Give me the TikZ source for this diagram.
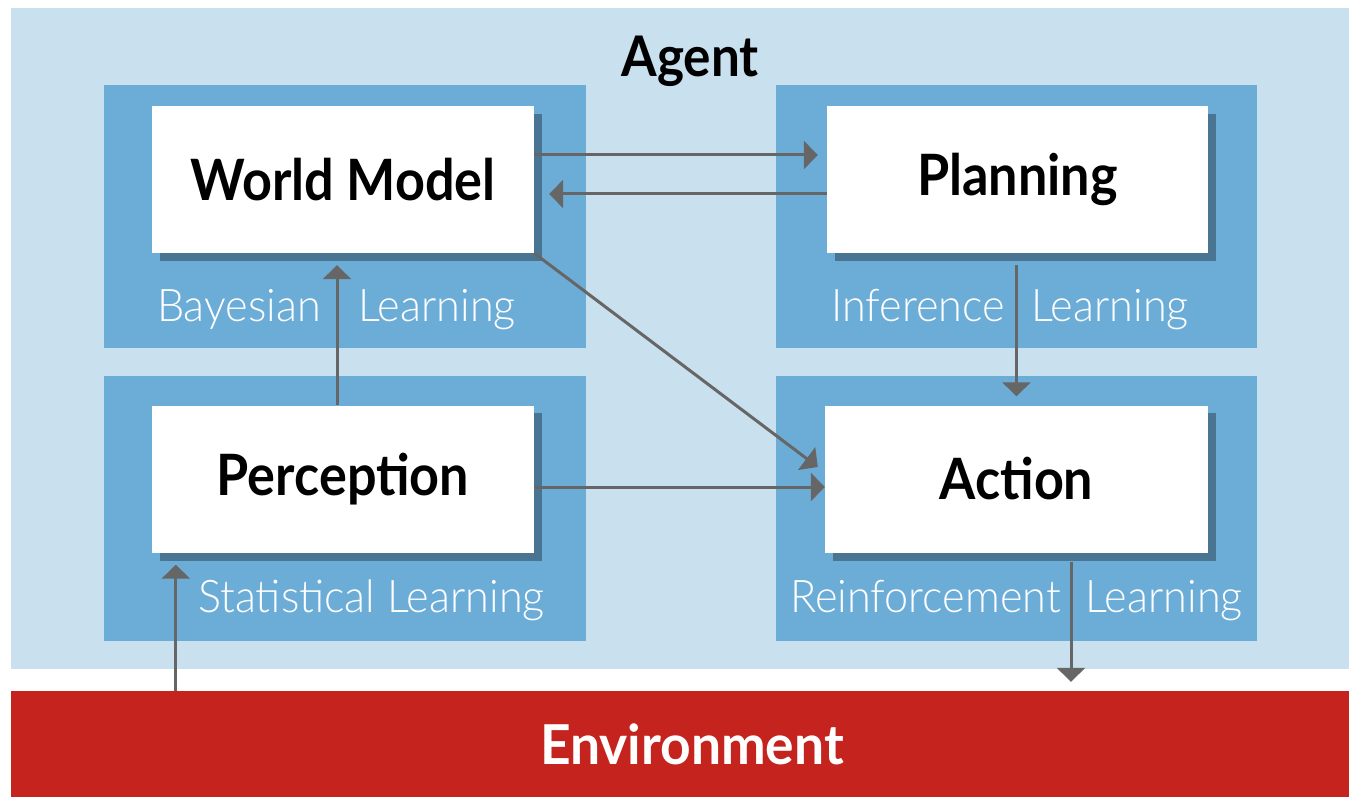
\documentclass[tikz,border=0pt]{standalone}
\usepackage{fontspec}
\usetikzlibrary{arrows.meta,calc}
\newfontfamily\headf{Lato}[FakeStretch=0.915]
\newfontfamily\envf{Lato}[FakeStretch=0.97]
\newfontfamily\lightf{Lato Light}[FakeStretch=0.96]
\definecolor{bgc}{HTML}{C9E0EE}
\definecolor{panelc}{HTML}{6CADD8}
\definecolor{shadowc}{HTML}{4A7592}
\definecolor{redc}{HTML}{C4241D}
\definecolor{arrowc}{HTML}{666666}
\tikzset{
  panel/.style={fill=panelc, draw=none},
  whitebox/.style={fill=white, draw=none, minimum width=382pt, minimum height=147pt, inner sep=0pt,
    font=\headf\bfseries\fontsize{57}{60}\selectfont, text=black},
  lbl/.style={font=\lightf\fontsize{45}{48}\selectfont, text=white, inner sep=0pt},
  conn/.style={draw=arrowc, line width=3pt, -{Triangle[length=14pt,width=28pt]}},
}
\newcommand{\boxshadow}[1]{\fill[shadowc] ([shift={(8,8)}]#1.north west) rectangle ([shift={(8,8)}]#1.south east);}
\begin{document}
\begin{tikzpicture}[x=1pt,y=-1pt]
\useasboundingbox (0,0) rectangle (1349,799);
% agent background
\fill[bgc] (11,8) rectangle (1349,669);
\node[anchor=base, font=\headf\bfseries\fontsize{56}{60}\selectfont] (agent) at (690,77) {Agent};
% panels
\fill[panel] (104,85) rectangle (586,348);
\fill[panel] (776,85) rectangle (1257,348);
\fill[panel] (104,376) rectangle (586,641);
\fill[panel] (776,376) rectangle (1257,641);
% environment
\node[fill=redc, minimum width=1338pt, minimum height=106pt, inner sep=0pt, text=white,
  font=\envf\bfseries\fontsize{55}{58}\selectfont] (env) at (680,744) {\hspace*{24pt}Environment};
% white boxes
\path (343,179.5) node[whitebox] (wm) {}
      (1017.5,179.5) node[whitebox, minimum width=381pt] (pl) {}
      (343,479) node[whitebox] (pe) {}
      (1016.5,479) node[whitebox, minimum width=383pt] (ac) {};
\boxshadow{wm}\boxshadow{pl}\boxshadow{pe}\boxshadow{ac}
\node[whitebox] at (wm) {World Model};
\node[whitebox, minimum width=381pt] at (pl) {Planning};
\node[whitebox] at (pe) {Perception};
\node[whitebox, minimum width=383pt] at (ac) {Action};
% labels
\node[lbl, anchor=base east] (l1a) at (321,322) {Bayesian};
\node[lbl, anchor=base west] (l1b) at (358,322) {Learning};
\node[lbl, anchor=base east] (l2a) at (1005,322) {Inference};
\node[lbl, anchor=base west] (l2b) at (1031,322) {Learning};
\node[lbl, anchor=base west] (l3) at (198,612) {Statistical Learning};
\node[lbl, anchor=base east] (l4a) at (1061,612) {Reinforcement};
\node[lbl, anchor=base west] (l4b) at (1085,612) {Learning};
% connectors
\draw[conn] ($(wm.east)+(0,-24.5)$) -- ($(pl.west)+(-9,-24.5)$);
\draw[conn] ($(pl.west)+(0,14.5)$) -- ($(wm.east)+(15,14.5)$);
\draw[conn] ($(pe.north)+(-6,0)$) -- ($(wm.south)+(-6,12)$);
\draw[conn] (wm.south east) -- ($(ac.west)+(-7,-12)$);
\draw[conn] ($(pe.east)+(0,8)$) -- ($(ac.west)+(0,8)$);
\draw[conn] ($(pl.south)+(-1,12)$) -- ($(ac.north)+(0,-9)$);
\coordinate (a7) at ($(ac.south)+(54.5,9)$);
\coordinate (e7) at (a7 |- env.north);
\draw[conn] (a7) -- ($(e7)+(0,-9)$);
\coordinate (t8) at ($(pe.south west)+(24,12)$);
\coordinate (b8) at (t8 |- env.north);
\draw[conn] (b8) -- (t8);
\end{tikzpicture}
\end{document}
